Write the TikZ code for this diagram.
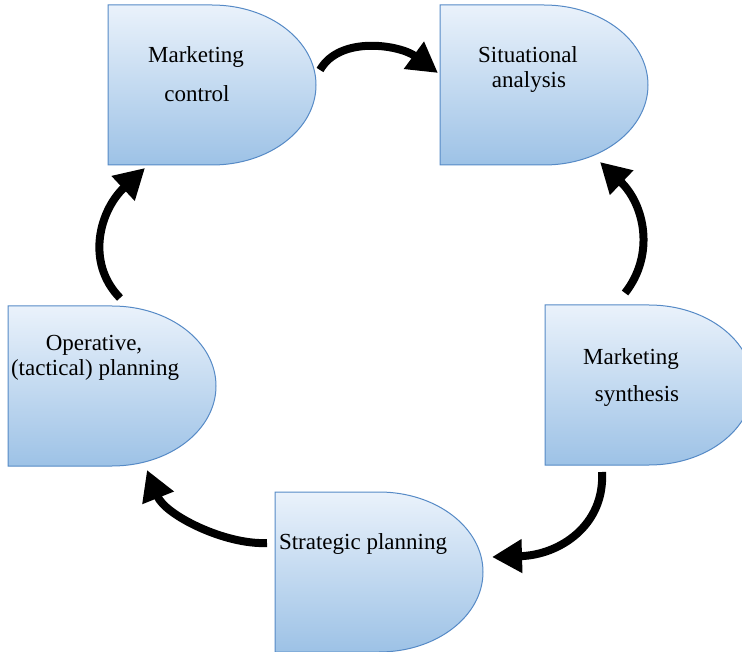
\documentclass[tikz,border=0pt]{standalone}
\usepackage{fontspec}
\setmainfont{Liberation Serif}
\usetikzlibrary{arrows.meta}
\definecolor{boxtop}{RGB}{234,242,251}
\definecolor{boxbot}{RGB}{157,194,230}
\definecolor{boxline}{RGB}{86,138,198}
\newcommand\drawdelay[1]{\path[dshape] (#1.north west) -- (#1.north) arc[start angle=90,end angle=-90,x radius=104pt,y radius=80pt] -- (#1.south west) -- cycle;}
\begin{document}
\begin{tikzpicture}[x=1pt,y=-1pt,
  frame/.style={minimum width=208pt, minimum height=160pt, inner sep=0pt, outer sep=0pt, anchor=north west},
  dshape/.style={draw=boxline, line width=1pt, top color=boxtop, bottom color=boxbot},
  lbl/.style={anchor=base, font=\fontsize{23}{27}\selectfont, inner sep=0pt, text=black},
  flow/.style={line width=8pt, -{Triangle[length=30pt,width=32pt]}}]
\useasboundingbox (0,0) rectangle (742,652);

% frames of the five shapes
\node[frame] (mc) at (108,5) {};
\node[frame] (sa) at (440,5) {};
\node[frame] (ms) at (545,305) {};
\node[frame] (sp) at (275,492) {};
\node[frame] (op) at (8,306) {};

\drawdelay{mc}
\drawdelay{sa}
\drawdelay{ms}
\drawdelay{sp}
\drawdelay{op}

% labels
\node[lbl] (mc1) at (196,63) {Marketing};
\node[lbl] (mc2) at (197,102) {control};
\node[lbl] (sa1) at (528,63) {Situational};
\node[lbl] (sa2) at (529,88) {analysis};
\node[lbl] (ms1) at (631,365) {Marketing};
\node[lbl] (ms2) at (637,402) {synthesis};
\node[lbl] (sp1) at (363,549) {Strategic planning};
\node[lbl] (op1) at (94,351) {Operative,};
\node[lbl] (op2) at (95,376) {(tactical) planning};

% connector end points
\coordinate (a1s) at (320,70);
\coordinate (a1e) at (438,73);
\coordinate (a2s) at (625,293);
\coordinate (a2e) at (600,162);
\coordinate (a3s) at (602,472);
\coordinate (a3e) at (492,557);
\coordinate (a4s) at (267,543);
\coordinate (a4e) at (147,470);
\coordinate (a5s) at (120,298);
\coordinate (a5e) at (145,168);

\draw[flow] (a1s) .. controls (340,35) and (400,45) .. (a1e);
\draw[flow] (a2s) .. controls (655,255) and (645,205) .. (a2e);
\draw[flow] (a3s) .. controls (605,525) and (560,555) .. (a3e);
\draw[flow] (a4s) .. controls (225,545) and (165,515) .. (a4e);
\draw[flow] (a5s) .. controls (85,262) and (100,210) .. (a5e);
\end{tikzpicture}
\end{document}
